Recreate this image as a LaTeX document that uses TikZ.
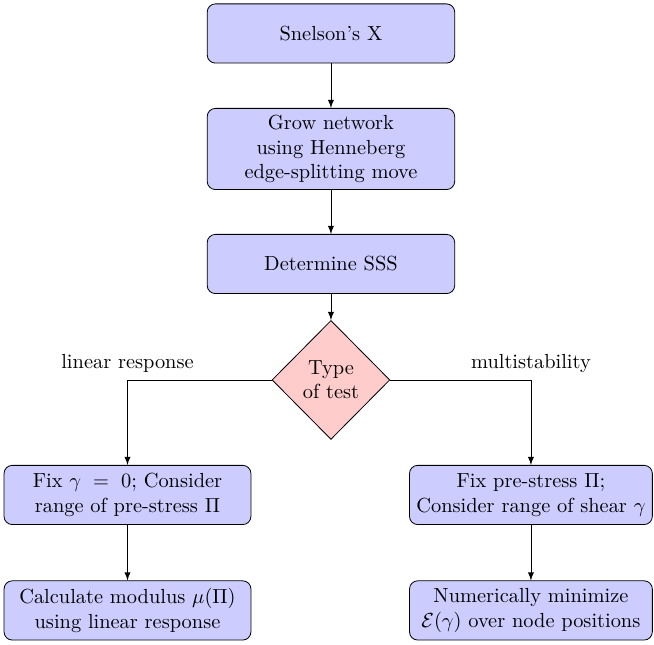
\documentclass[tikz,border=0pt]{standalone}
\usetikzlibrary{positioning, shapes.geometric, arrows}

\begin{document}
\begin{tikzpicture}[
  block/.style={rectangle, draw, fill=blue!20, rounded corners, align=center,
    minimum height=1.02cm, text width=4.03cm},
  sideblock/.style={block, text width=3.95cm},
  decision/.style={diamond, draw, fill=red!20, aspect=1, inner sep=0pt,
    minimum width=2.03cm, minimum height=2.05cm, align=center},
  line/.style={draw, -latex},
  branch/.style={above, pos=0.5},
]
  % Frame
  \useasboundingbox (0,0) rectangle (11.27,-11.11);

  % Columns and rows
  \def\xm{5.703}  % middle
  \def\xl{2.197}  % linear response side
  \def\xr{9.149}  % multistability side
  \def\ya{-0.577}
  \def\yb{-2.567}
  \def\yc{-4.549}
  \def\yd{-6.547}
  \def\ye{-8.529}
  \def\yf{-10.519}

  % Main column
  \node[block] (snelson) at (\xm, \ya) {Snelson's X};
  \node[block] (grow) at (\xm, \yb) {Grow network\\using Henneberg\\edge-splitting move};
  \node[block] (sss) at (\xm, \yc) {Determine SSS};
  \node[decision] (test) at (\xm, \yd) {Type\\of test};

  % Branches
  \node[block, text width=4.02cm] (fixgamma) at (\xl, \ye) {Fix $\gamma\,=\,0$; Consider\\range of pre-stress $\Pi$};
  \node[block, text width=4.02cm] (modulus) at (\xl, \yf) {Calculate modulus $\mu(\Pi)$\\using linear response};
  \node[sideblock] (fixstress) at (\xr, \ye) {Fix pre-stress $\Pi$;\\Consider range of shear $\gamma$};
  \node[sideblock] (minimize) at (\xr, \yf) {Numerically minimize\\$\mathcal{E}(\gamma)$ over node positions};

  % Edges
  \path[line] (snelson) -- (grow);
  \path[line] (grow) -- (sss);
  \path[line] (sss) -- (test);
  \path[line] (test.west) -| node[branch] (lin) {linear response} (fixgamma);
  \path[line] (test.east) -| node[branch] (multi) {multistability} (fixstress);
  \path[line] (fixgamma) -- (modulus);
  \path[line] (fixstress) -- (minimize);
\end{tikzpicture}
\end{document}
